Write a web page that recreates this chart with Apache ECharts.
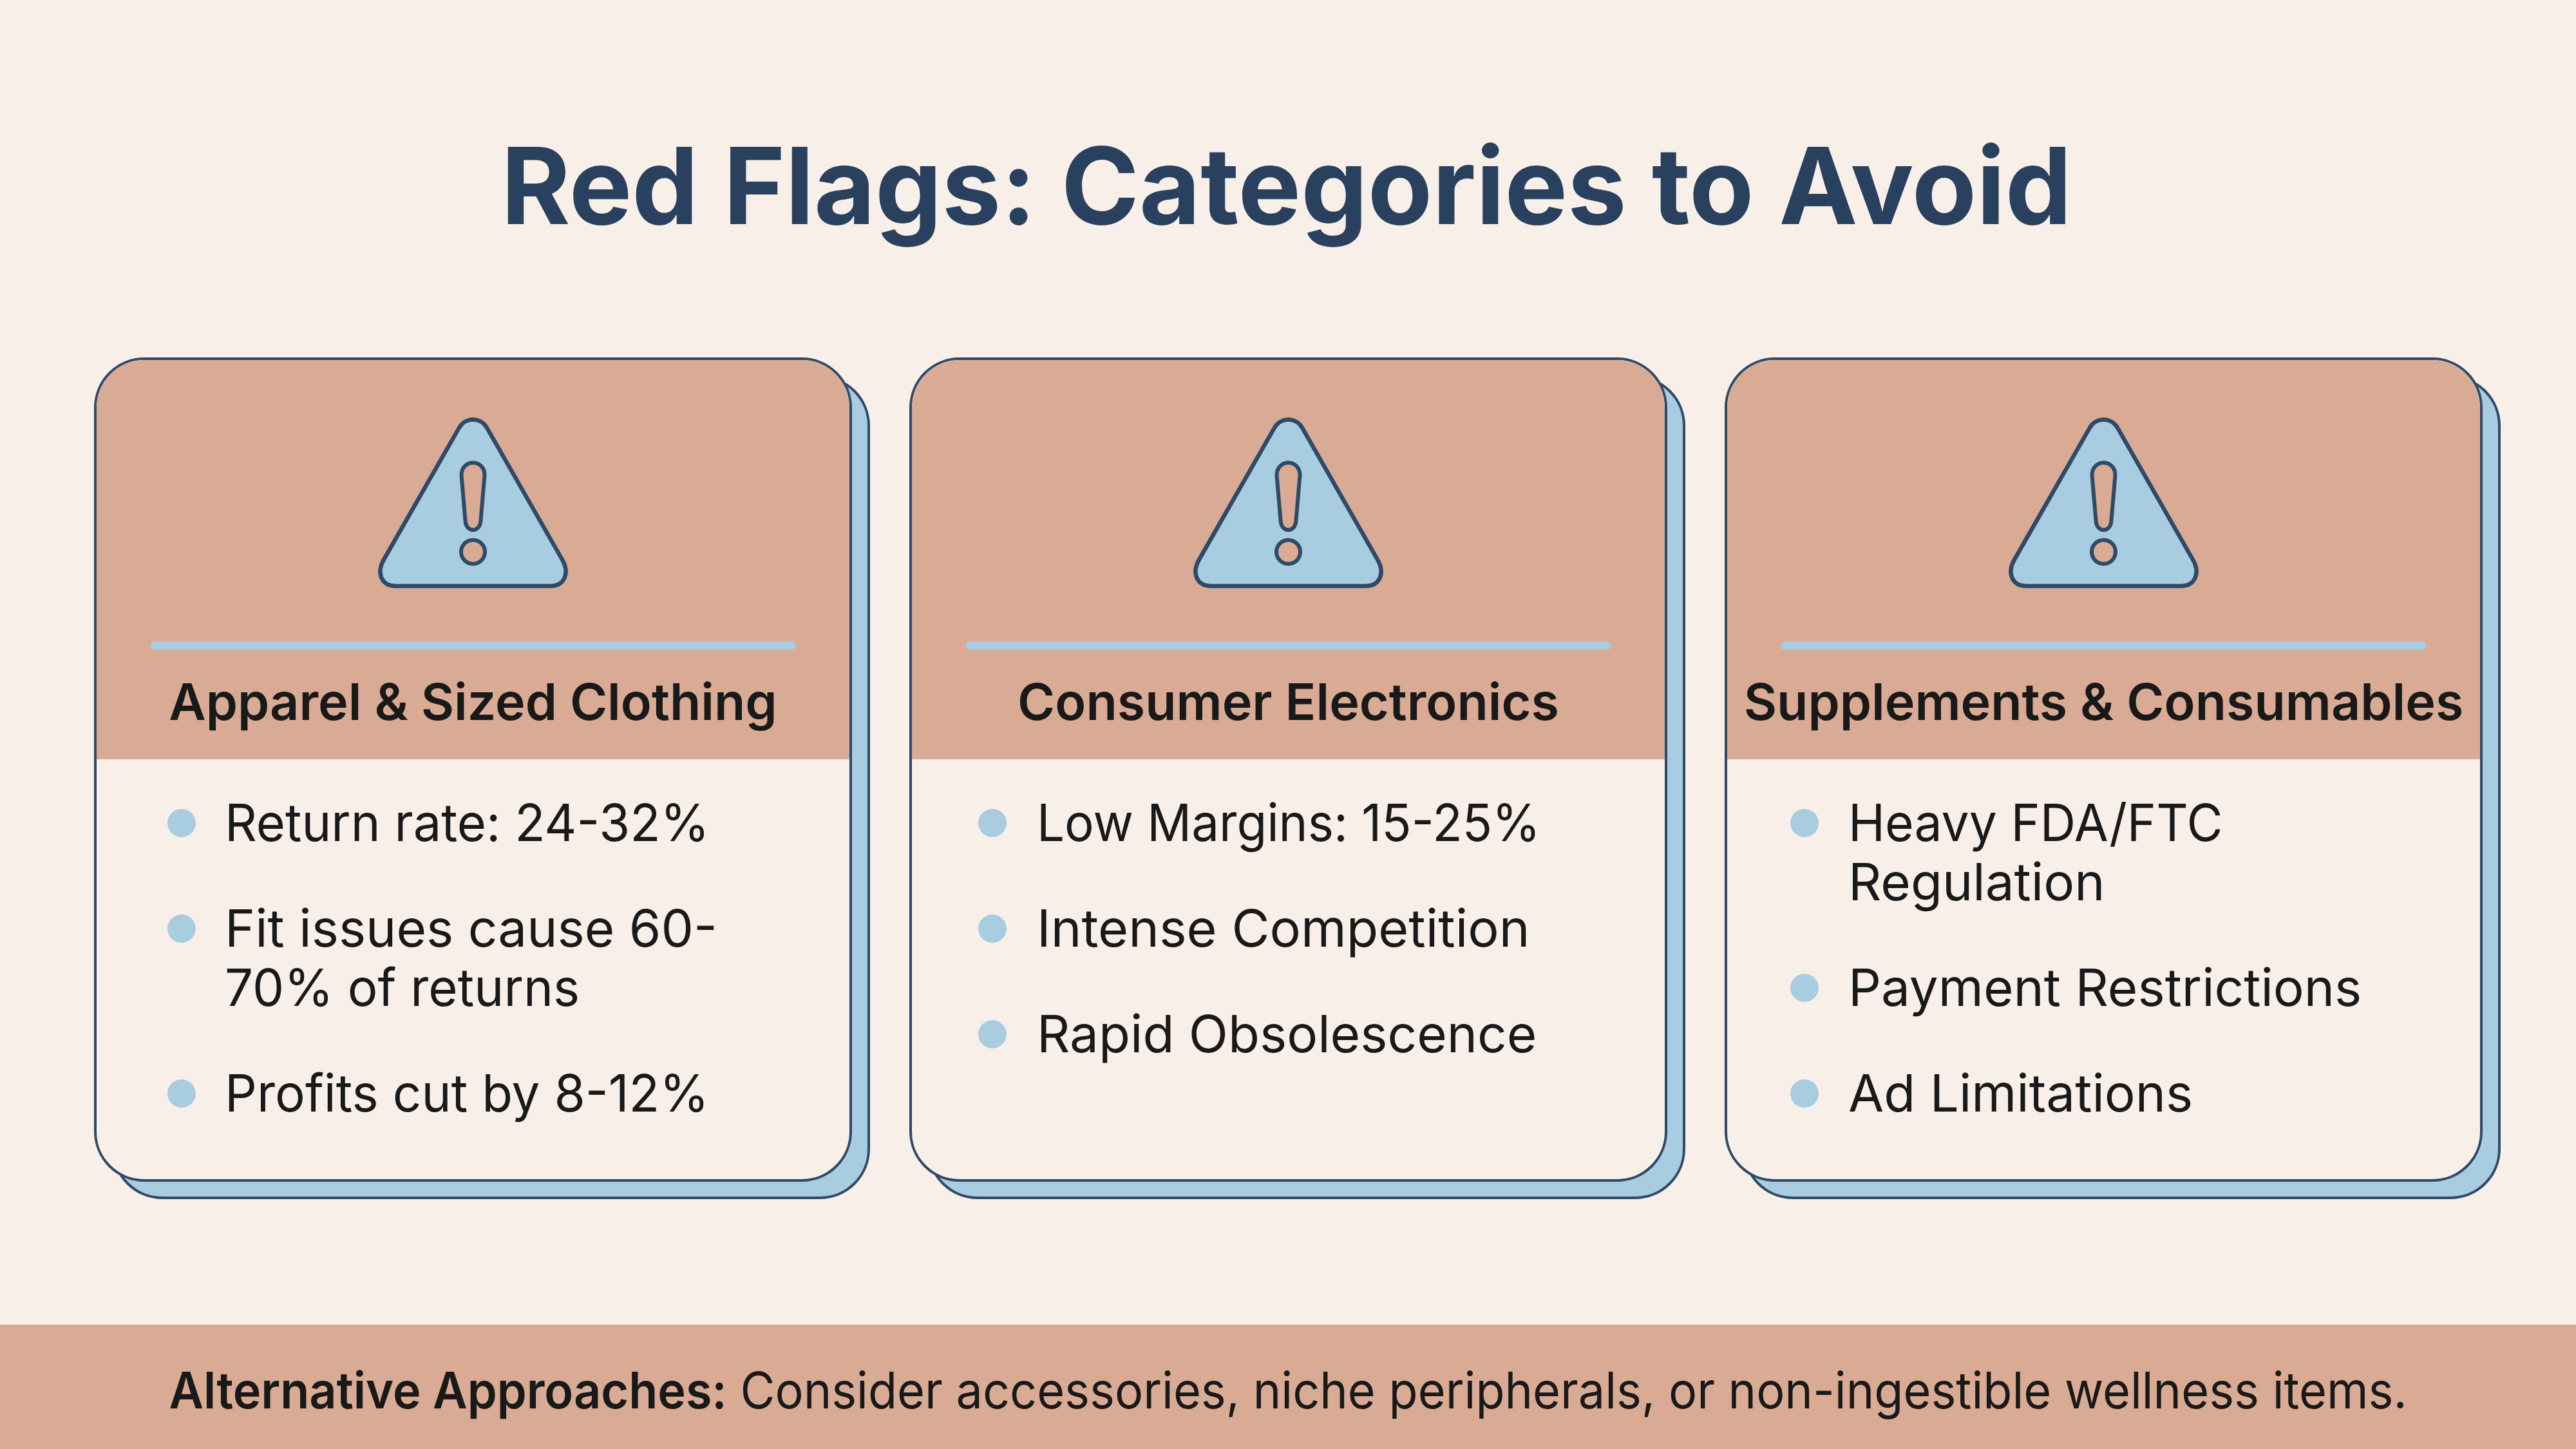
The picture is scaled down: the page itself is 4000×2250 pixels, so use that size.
<!DOCTYPE html>
<html><head><meta charset="utf-8">
<style>html,body{margin:0;padding:0;background:#F8F0E8}#c{width:4000px;height:2250px}</style>
<script src="https://cdn.jsdelivr.net/npm/echarts@6/dist/echarts.min.js"></script>
</head><body><div id="c"></div>
<script>
const chartTitle = 'Red Flags: Categories to Avoid';
const cardTitles = ['Apparel & Sized Clothing', 'Consumer Electronics', 'Supplements & Consumables'];
const card1Bullets = [['Return rate: 24-32%'], ['Fit issues cause 60-', '70% of returns'], ['Profits cut by 8-12%']];
const card2Bullets = [['Low Margins: 15-25%'], ['Intense Competition'], ['Rapid Obsolescence']];
const card3Bullets = [['Heavy FDA/FTC', 'Regulation'], ['Payment Restrictions'], ['Ad Limitations']];
const footerLead = 'Alternative Approaches:';
const footerBody = ' Consider accessories, niche peripherals, or non-ingestible wellness items.';

const bullets = [card1Bullets, card2Bullets, card3Bullets];
const BG='#F8F0E8', HEAD='#D9AB94', BLUE='#A8CCE0', NAVY='#2F4A68', INK='#191919', TITLE='#29415F';
const FONT='Inter, "Noto Sans", sans-serif';
const cardX=[148,1414,2680], cardW=1173, cardY=557, cardH=1276, headH=622, R=76;
const bulletDX=[134,127,122], textDX=[201,196,190];
// horizontal fit of lines whose digits run wide in the substitute font
const lineFit={'Return rate: 24-32%':0.97,'Low Margins: 15-25%':0.953,'Profits cut by 8-12%':0.977,'70% of returns':0.975,'Heavy FDA/FTC':0.96,'Intense Competition':1.01,'Ad Limitations':1.0};
const g=[];
g.push({type:'rect',shape:{x:0,y:2057,width:4000,height:193},style:{fill:HEAD}});
g.push({type:'text',x:1997.5,y:298,scaleX:0.99,style:{text:chartTitle,x:0,y:0,align:'center',verticalAlign:'middle',fill:TITLE,font:'700 165.5px '+FONT}});
cardTitles.forEach((t,i)=>{
  const x=cardX[i], cx=x+cardW/2;
  g.push({type:'rect',shape:{x:x+28,y:cardY+28,width:cardW,height:cardH-1,r:R},style:{fill:BLUE,stroke:NAVY,lineWidth:4}});
  g.push({type:'rect',shape:{x,y:cardY,width:cardW,height:cardH,r:R},style:{fill:BG,stroke:NAVY,lineWidth:4}});
  g.push({type:'rect',shape:{x:x+2,y:cardY+2,width:cardW-4,height:headH-2,r:[R-2,R-2,0,0]},style:{fill:HEAD}});
  g.push({type:'rect',shape:{x:x+86,y:996,width:cardW-172,height:13,r:5},style:{fill:BLUE}});
  g.push({type:'text',style:{text:t,x:cx,y:1094,align:'center',verticalAlign:'middle',fill:INK,font:'600 79px '+FONT}});
  let y=1278;
  bullets[i].forEach(lines=>{
    g.push({type:'circle',shape:{cx:x+bulletDX[i],cy:y,r:22},style:{fill:BLUE}});
    lines.forEach((ln,k)=>{
      g.push({type:'text',x:x+textDX[i],y:y+4+k*92,scaleX:lineFit[ln]||1,style:{text:ln,x:0,y:0,align:'left',verticalAlign:'middle',fill:INK,font:'400 80px '+FONT}});
    });
    y+=lines.length*92+72;
  });
});
g.push({type:'text',x:2000,y:2164,scaleX:0.945,style:{text:'{a|'+footerLead+'}{b|'+footerBody+'}',x:0,y:0,align:'center',verticalAlign:'middle',
  rich:{a:{font:'600 78px '+FONT,fill:INK},b:{font:'400 78px '+FONT,fill:INK}}}});
function renderIcon(params){
  const cx=cardX[params.dataIndex]+cardW/2;
  return {type:'group',x:cx,y:0,children:[
    {type:'path',shape:{pathData:'M-22,665C-12,647,12,647,22,665L138,868C151,890,142,910,120,910L-120,910C-142,910,-151,890,-138,868Z'},style:{fill:BLUE,stroke:NAVY,lineWidth:6.5}},
    {type:'path',shape:{pathData:'M-18,738C-18,712,18,712,18,738L12,808C11,828,-11,828,-12,808Z'},style:{fill:HEAD,stroke:NAVY,lineWidth:6}},
    {type:'circle',shape:{cx:0,cy:857,r:18.5},style:{fill:HEAD,stroke:NAVY,lineWidth:6}}
  ]};
}
const chart=echarts.init(document.getElementById('c'),null,{renderer:'canvas'});
chart.setOption({animation:false,backgroundColor:BG,graphic:{elements:g},
  series:[{type:'custom',coordinateSystem:'none',silent:true,data:cardTitles.map((t,i)=>i),renderItem:renderIcon}]});
</script></body></html>
